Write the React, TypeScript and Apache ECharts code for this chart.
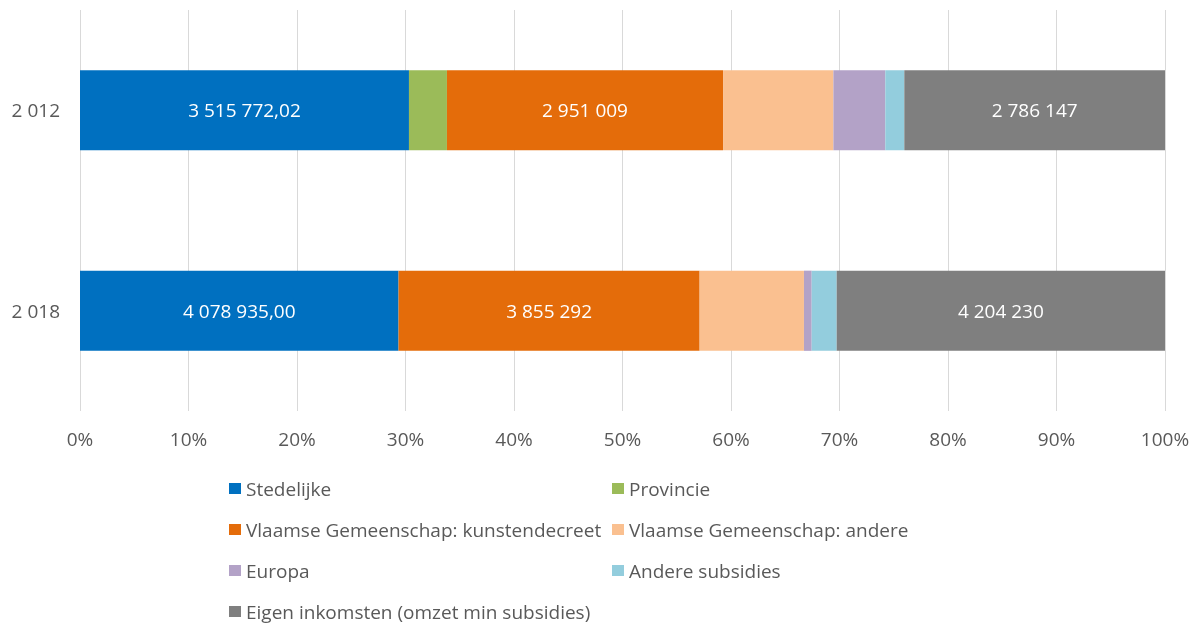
import React, { useEffect, useRef } from "react";
import * as echarts from "echarts";

const categories = ["2 012", "2 018"];
const seriesNames = [
  "Stedelijke",
  "Provincie",
  "Vlaamse Gemeenschap: kunstendecreet",
  "Vlaamse Gemeenschap: andere",
  "Europa",
  "Andere subsidies",
  "Eigen inkomsten (omzet min subsidies)",
];
const colors = ["#0070C0", "#9BBB59", "#E46C0A", "#FAC090", "#B3A2C7", "#93CDDD", "#7F7F7F"];
const stedelijke = [3515772.02, 4078935.0];
const provincie = [406000, 0];
const kunstendecreet = [2951009, 3855292];
const vgAndere = [1179000, 1336000];
const europa = [555000, 99000];
const andereSubsidies = [203000, 320000];
const eigenInkomsten = [2786147, 4204230];
const labelled = [true, false, true, false, false, false, true];
const decimals = [2, 0, 0, 0, 0, 0, 0];
const xTicks = ["0%", "10%", "20%", "30%", "40%", "50%", "60%", "70%", "80%", "90%", "100%"];

const allSeries = [stedelijke, provincie, kunstendecreet, vgAndere, europa, andereSubsidies, eigenInkomsten];

function fmt(v: number, d: number) {
  const fixed = v.toFixed(d);
  const [ip, dp] = fixed.split(".");
  const grouped = ip.replace(/\B(?=(\d{3})+(?!\d))/g, " ");
  return dp ? grouped + "," + dp : grouped;
}

export default function App() {
  const ref = useRef<HTMLDivElement>(null);
  useEffect(() => {
    if (!ref.current) return;
    const chart = echarts.init(ref.current, undefined, { renderer: "svg" });
    const totals = categories.map((_, i) => allSeries.reduce((s, arr) => s + arr[i], 0));
    const font = "'Open Sans', sans-serif";
    const series = allSeries.map((arr, si) => ({
      name: seriesNames[si],
      type: "bar",
      stack: "total",
      barWidth: "40%",
      itemStyle: { color: colors[si] },
      data: arr.map((v, i) => ({ value: (v / totals[i]) * 100, raw: v })),
      label: {
        show: labelled[si],
        position: "inside",
        color: "#FFFFFF",
        fontSize: 19,
        fontFamily: font,
        formatter: (p: any) => fmt(p.data.raw, decimals[si]),
      },
    }));
    const legendCommon = {
      orient: "vertical",
      icon: "rect",
      itemWidth: 12,
      itemHeight: 11,
      itemGap: 22,
      padding: 0,
      height: 160,
      selectedMode: false,
      textStyle: { color: "#595959", fontSize: 19, lineHeight: 19, fontFamily: font },
    };
    chart.setOption({
      animation: false,
      grid: { left: 80, right: 30, top: 10, height: 401, containLabel: false },
      xAxis: {
        type: "value",
        min: 0,
        max: 100,
        interval: 10,
        axisLine: { show: false },
        axisTick: { show: false },
        splitLine: { show: true, lineStyle: { color: "#D9D9D9", width: 1 } },
        axisLabel: {
          color: "#595959",
          fontSize: 19,
          fontFamily: font,
          margin: 18,
          formatter: (v: number) => xTicks[Math.round(v / 10)],
        },
      },
      yAxis: {
        type: "category",
        inverse: true,
        data: categories,
        axisLine: { show: false },
        axisTick: { show: false },
        axisLabel: { color: "#595959", fontSize: 19, fontFamily: font, margin: 20 },
      },
      legend: [
        { ...legendCommon, left: 229, top: 479, data: [seriesNames[0], seriesNames[2], seriesNames[4], seriesNames[6]] },
        { ...legendCommon, left: 612, top: 479, data: [seriesNames[1], seriesNames[3], seriesNames[5]] },
      ],
      series,
    });
    return () => chart.dispose();
  }, []);
  return <div ref={ref} style={{ position: "fixed", left: 0, top: 0, width: 1195, height: 623 }} />;
}
